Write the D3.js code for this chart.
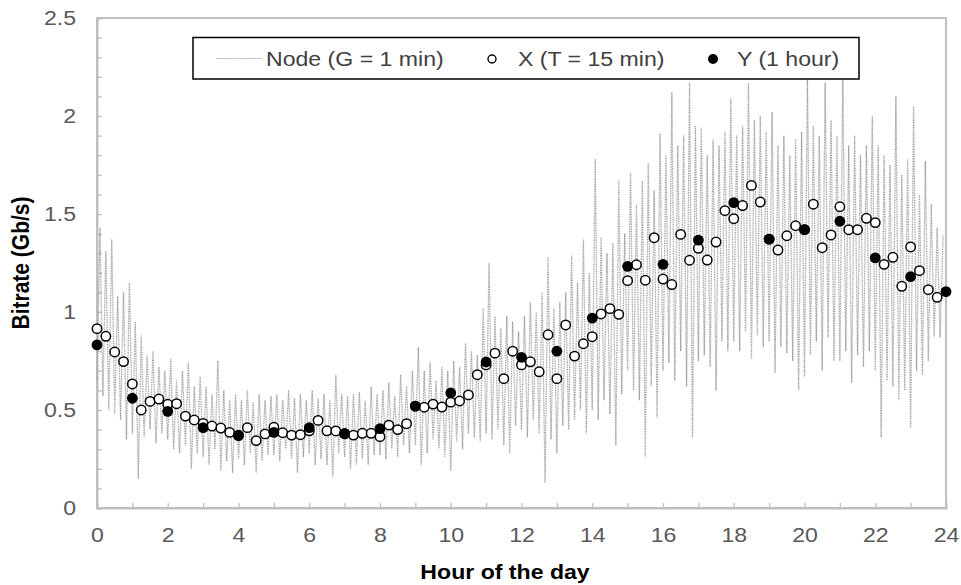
<!DOCTYPE html>
<html>
<head>
<meta charset="utf-8">
<script src="https://cdn.jsdelivr.net/npm/d3@7"></script>
<style>
  html, body { margin: 0; padding: 0; background: #fff; }
  svg { display: block; font-family: "Liberation Sans", Arial, sans-serif; }
</style>
</head>
<body>
<svg id="chart" width="961" height="585"></svg>
<script>
// Hour-of-day ticks (labelled every 2 h) and bitrate ticks
const xTickLabels = [0, 2, 4, 6, 8, 10, 12, 14, 16, 18, 20, 22, 24];
const yTickLabels = [0, 0.5, 1, 1.5, 2, 2.5];

// Node traffic at G = 1 min, summarised per 10-minute slot as the
// lowest and highest 1-minute reading in that slot (Gb/s), hour by hour.
const nodeLo = [
  0.65, 0.57, 0.50, 0.48, 0.45, 0.35,   // 0h
  0.38, 0.15, 0.36, 0.40, 0.33, 0.38,   // 1h
  0.35, 0.30, 0.28, 0.32, 0.20, 0.28,   // 2h
  0.26, 0.22, 0.30, 0.19, 0.24, 0.18,   // 3h
  0.25, 0.22, 0.28, 0.18, 0.24, 0.27,   // 4h
  0.27, 0.24, 0.30, 0.25, 0.18, 0.26,   // 5h
  0.28, 0.22, 0.25, 0.22, 0.16, 0.28,   // 6h
  0.26, 0.20, 0.22, 0.25, 0.22, 0.27,   // 7h
  0.27, 0.25, 0.30, 0.26, 0.32, 0.28,   // 8h
  0.32, 0.22, 0.28, 0.35, 0.30, 0.26,   // 9h
  0.19, 0.34, 0.30, 0.38, 0.36, 0.34,   // 10h
  0.38, 0.35, 0.40, 0.32, 0.28, 0.42,   // 11h
  0.40, 0.36, 0.45, 0.38, 0.13, 0.35,   // 12h
  0.28, 0.42, 0.40, 0.45, 0.50, 0.38,   // 13h
  0.50, 0.45, 0.55, 0.48, 0.32, 0.58,   // 14h
  0.70, 0.60, 0.55, 0.26, 0.62, 0.46,   // 15h
  0.70, 0.74, 0.65, 0.80, 0.62, 0.36,   // 16h
  0.75, 0.78, 0.72, 0.60, 0.85, 0.80,   // 17h
  0.85, 0.80, 0.90, 0.76, 0.88, 0.82,   // 18h
  0.85, 0.69, 0.82, 0.79, 0.75, 0.60,   // 19h
  0.67, 0.78, 0.85, 0.70, 0.87, 0.75,   // 20h
  0.75, 0.80, 0.64, 0.78, 0.72, 0.80,   // 21h
  0.70, 0.36, 0.65, 0.62, 0.55, 0.60,   // 22h
  0.41, 0.70, 0.68, 0.75, 0.87, 0.87    // 23h
];
const nodeHi = [
  1.43, 1.31, 1.37, 1.08, 1.10, 1.15,   // 0h
  0.95, 0.88, 0.78, 0.80, 0.72, 0.70,   // 1h
  0.76, 0.65, 0.70, 0.745, 0.62, 0.67,  // 2h
  0.62, 0.58, 0.75, 0.60, 0.55, 0.58,   // 3h
  0.55, 0.60, 0.54, 0.58, 0.55, 0.57,   // 4h
  0.58, 0.55, 0.60, 0.56, 0.58, 0.55,   // 5h
  0.60, 0.56, 0.58, 0.55, 0.68, 0.58,   // 6h
  0.57, 0.58, 0.59, 0.55, 0.62, 0.58,   // 7h
  0.60, 0.64, 0.57, 0.68, 0.62, 0.70,   // 8h
  0.82, 0.70, 0.745, 0.65, 0.72, 0.70,  // 9h
  0.75, 0.72, 0.84, 0.80, 0.78, 1.02,   // 10h
  1.25, 0.98, 0.92, 0.98, 0.95, 0.90,   // 11h
  0.98, 1.05, 1.00, 1.10, 1.28, 1.02,   // 12h
  1.05, 1.10, 1.29, 1.15, 1.37, 1.20,   // 13h
  1.78, 1.38, 1.30, 1.35, 1.67, 1.40,   // 14h
  1.71, 1.55, 1.67, 1.76, 1.62, 1.91,   // 15h
  1.80, 2.12, 1.85, 1.90, 2.17, 1.95,   // 16h
  1.94, 1.80, 1.88, 1.85, 1.92, 2.09,   // 17h
  1.90, 1.95, 2.17, 1.98, 2.00, 1.92,   // 18h
  2.02, 1.85, 1.90, 1.80, 1.88, 1.92,   // 19h
  2.20, 1.95, 1.90, 2.17, 1.98, 1.90,   // 20h
  2.20, 1.85, 1.90, 1.80, 1.85, 2.00,   // 21h
  1.85, 1.80, 1.75, 2.10, 1.70, 1.78,   // 22h
  2.05, 1.60, 1.77, 1.55, 1.43, 1.39    // 23h
];

// X: 15-minute averages, from 0:00 to 23:45
const xAvg15 = [
  0.915, 0.876, 0.796, 0.747,
  0.633, 0.500, 0.544, 0.556,
  0.529, 0.532, 0.469, 0.449,
  0.432, 0.418, 0.408, 0.386,
  0.372, 0.410, 0.344, 0.378,
  0.412, 0.384, 0.372, 0.374,
  0.394, 0.447, 0.394, 0.393,
  0.380, 0.372, 0.381, 0.381,
  0.364, 0.423, 0.400, 0.430,
  0.520, 0.514, 0.530, 0.515,
  0.540, 0.546, 0.577, 0.680,
  0.730, 0.790, 0.660, 0.800,
  0.730, 0.746, 0.695, 0.884,
  0.660, 0.934, 0.775, 0.838,
  0.874, 0.990, 1.017, 0.988,
  1.160, 1.241, 1.162, 1.379,
  1.168, 1.140, 1.396, 1.264,
  1.325, 1.265, 1.357, 1.517,
  1.476, 1.543, 1.646, 1.561,
  1.372, 1.316, 1.389, 1.440,
  1.420, 1.550, 1.328, 1.393,
  1.537, 1.420, 1.420, 1.478,
  1.456, 1.243, 1.279, 1.131,
  1.332, 1.211, 1.114, 1.075
];

// Y: hourly averages, 0:00 to 24:00
const yAvg60 = [
  0.832, 0.560, 0.493, 0.410, 0.369, 0.386, 0.410, 0.378, 0.405,
  0.520, 0.587, 0.745, 0.769, 0.800, 0.969, 1.233, 1.243, 1.367,
  1.558, 1.372, 1.420, 1.463, 1.276, 1.180, 1.104
];

const seriesNames = ["Node (G = 1 min)", "X (T = 15 min)", "Y (1 hour)"];

const svg = d3.select("#chart");
const plotLeft = 97, plotRight = 946, plotTop = 18, plotBottom = 508;
const textFont = 21;   // px
const widen = 1.1;     // text is set slightly wide

const x = d3.scaleLinear().domain([0, 24]).range([plotLeft, plotRight]);
const y = d3.scaleLinear().domain([0, 2.5]).range([plotBottom, plotTop]);

const axisGrey = "#bfbfbf";
const labelGrey = "#595959";

// Plot frame
svg.append("rect")
  .attr("x", plotLeft).attr("y", plotTop)
  .attr("width", plotRight - plotLeft).attr("height", plotBottom - plotTop)
  .attr("fill", "none").attr("stroke", axisGrey).attr("stroke-width", 2);

// Minor ticks: every hour on x, every 0.1 Gb/s on y (pointing inward)
const xPad = 19, yPad = 21;
const xAxis = d3.axisBottom(x)
  .tickValues(d3.range(0, 25, 1))
  .tickSize(-5).tickPadding(xPad)
  .tickFormat(d => xTickLabels.includes(d) ? d : "");
const gx = svg.append("g").attr("transform", `translate(0,${plotBottom})`).call(xAxis);

const yAxis = d3.axisLeft(y)
  .tickValues(d3.range(0, 26, 1).map(i => i / 10))
  .tickSize(-5).tickPadding(yPad)
  .tickFormat(d => yTickLabels.some(v => Math.abs(v - d) < 1e-9) ? d3.format("~g")(d) : "");
const gy = svg.append("g").attr("transform", `translate(${plotLeft},0)`).call(yAxis);

[gx, gy].forEach(g => {
  g.select(".domain").attr("stroke", axisGrey).attr("stroke-width", 2);
  g.selectAll(".tick line").attr("stroke", axisGrey).attr("stroke-width", 1.3);
  g.selectAll(".tick text")
    .attr("fill", labelGrey)
    .style("font-size", textFont + "px")
    .style("font-family", "'Liberation Sans', Arial, sans-serif");
});
// widen tick labels about their anchor
gx.selectAll(".tick text").attr("transform", `scale(${widen},1)`);
gy.selectAll(".tick text")
  .attr("x", -yPad / widen)
  .attr("transform", `scale(${widen},1)`);

// Axis titles
svg.append("text")
  .attr("transform", `translate(505,579) scale(${widen},1)`)
  .attr("text-anchor", "middle")
  .style("font-size", textFont + "px").style("font-weight", "bold")
  .text("Hour of the day");

svg.append("text")
  .attr("transform", `translate(29,${(plotTop + plotBottom) / 2}) rotate(-90) scale(1,${widen})`)
  .attr("text-anchor", "middle")
  .style("font-size", textFont + "px").style("font-weight", "bold")
  .text("Bitrate (Gb/s)");

// Node trace: each 10-minute slot drawn as its low then its high reading
const nodePts = [];
nodeLo.forEach((lo, i) => {
  const t = i / 6;
  nodePts.push([t, lo]);
  nodePts.push([t + 1 / 12, nodeHi[i]]);
});
const line = d3.line().x(d => x(d[0])).y(d => y(d[1]));
const nodeStroke = "#a3a3a3";
svg.append("path")
  .datum(nodePts)
  .attr("d", line)
  .attr("fill", "none")
  .attr("stroke", nodeStroke)
  .attr("stroke-width", 1.3)
  .attr("stroke-dasharray", "1,0.7");

// X: open circles
svg.append("g").selectAll("circle")
  .data(xAvg15)
  .join("circle")
  .attr("cx", (d, i) => x(i * 0.25))
  .attr("cy", d => y(d))
  .attr("r", 4.7)
  .attr("fill", "#fff")
  .attr("stroke", "#000")
  .attr("stroke-width", 1.5);

// Y: filled circles
svg.append("g").selectAll("circle")
  .data(yAvg60)
  .join("circle")
  .attr("cx", (d, i) => x(i))
  .attr("cy", d => y(d))
  .attr("r", 5.4)
  .attr("fill", "#000");

// Legend
const lg = svg.append("g");
lg.append("rect")
  .attr("x", 193).attr("y", 37.5).attr("width", 666).attr("height", 41.5)
  .attr("fill", "#fff").attr("stroke", "#000").attr("stroke-width", 1.5);
lg.append("line")
  .attr("x1", 216).attr("x2", 262).attr("y1", 58.5).attr("y2", 58.5)
  .attr("stroke", nodeStroke).attr("stroke-width", 1)
  .attr("stroke-dasharray", "1,0.7");
lg.append("circle").attr("cx", 492).attr("cy", 59).attr("r", 4)
  .attr("fill", "#fff").attr("stroke", "#000").attr("stroke-width", 1.4);
lg.append("circle").attr("cx", 713).attr("cy", 59).attr("r", 5)
  .attr("fill", "#000");
const legendX = [266, 518, 737];
seriesNames.forEach((name, i) => {
  lg.append("text")
    .attr("transform", `translate(${legendX[i]},66) scale(${widen},1)`)
    .attr("fill", "#404040")
    .style("font-size", textFont + "px")
    .text(name);
});
</script>
</body>
</html>
